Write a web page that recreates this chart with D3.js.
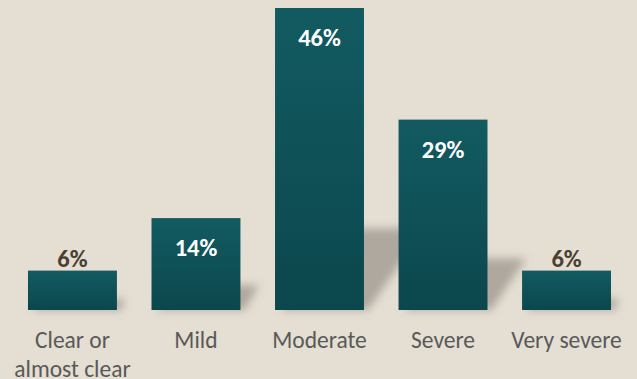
<!DOCTYPE html>
<html>
<head>
<meta charset="utf-8">
<script src="https://cdn.jsdelivr.net/npm/d3@7"></script>
<style>
  html, body { margin: 0; padding: 0; background: #e4ded3; }
  svg { display: block; }
</style>
</head>
<body>
<svg id="chart" width="637" height="379"></svg>
<script>
// Severity distribution
const categories = [["Clear or", "almost clear"], ["Mild"], ["Moderate"], ["Severe"], ["Very severe"]];
const values = [6, 14, 46, 29, 6];
const valueLabels = ["6%", "14%", "46%", "29%", "6%"];

const baseY = 310;
const svg = d3.select("#chart");

const x = d3.scaleBand()
  .domain(d3.range(values.length))
  .range([10.7, 628.3])
  .paddingInner(0.28)
  .paddingOuter(0.14);

const y = d3.scaleLinear().domain([0, 46]).range([baseY, 8]);

const defs = svg.append("defs");
const grad = defs.append("linearGradient")
  .attr("id", "barFill").attr("x1", 0).attr("y1", 0).attr("x2", 0).attr("y2", 1);
grad.append("stop").attr("offset", "0%").attr("stop-color", "#125b61");
grad.append("stop").attr("offset", "100%").attr("stop-color", "#0b474d");

const blur = defs.append("filter").attr("id", "soft")
  .attr("x", "-50%").attr("y", "-50%").attr("width", "200%").attr("height", "200%");
blur.append("feGaussianBlur").attr("stdDeviation", 4);

// cast shadows, skewed to the right behind each bar
const shadowK = 0.27;
svg.append("g").attr("filter", "url(#soft)")
  .selectAll("path").data(values).join("path")
  .attr("fill", "#8a847a").attr("fill-opacity", 0.6)
  .attr("d", (d, i) => {
    const x0 = x(i), x1 = x(i) + x.bandwidth();
    const h = (baseY - y(d)) * shadowK;
    const dx = h * 0.75;
    return `M${x0 + 6},${baseY} L${x1 + 4},${baseY} L${x1 + dx},${baseY - h} L${x0 + dx},${baseY - h} Z`;
  });

// bars
svg.append("g").selectAll("rect").data(values).join("rect")
  .attr("x", (d, i) => x(i))
  .attr("y", d => y(d))
  .attr("width", x.bandwidth())
  .attr("height", d => baseY - y(d))
  .attr("fill", "url(#barFill)");

// value labels: inside tall bars, above short ones
const fontFam = "Carlito, Calibri, Lato, 'Noto Sans', sans-serif";
svg.append("g").selectAll("text").data(values).join("text")
  .attr("x", (d, i) => x(i) + x.bandwidth() / 2)
  .attr("y", d => d > 10 ? y(d) + 38 : y(d) - 4)
  .attr("text-anchor", "middle")
  .attr("font-family", fontFam)
  .attr("font-weight", "bold")
  .attr("font-size", 24.5)
  .attr("fill", d => d > 10 ? "#ffffff" : "#4a4030")
  .text((d, i) => valueLabels[i]);

// category labels
const cat = svg.append("g").selectAll("text").data(categories).join("text")
  .attr("x", (d, i) => x(i) + x.bandwidth() / 2)
  .attr("y", 348)
  .attr("text-anchor", "middle")
  .attr("font-family", fontFam)
  .attr("font-size", 23.5)
  .attr("fill", "#595959");
cat.selectAll("tspan").data(d => d).join("tspan")
  .attr("x", function () { return d3.select(this.parentNode).attr("x"); })
  .attr("dy", (d, j) => j === 0 ? 0 : 28.5)
  .text(d => d);
</script>
</body>
</html>
